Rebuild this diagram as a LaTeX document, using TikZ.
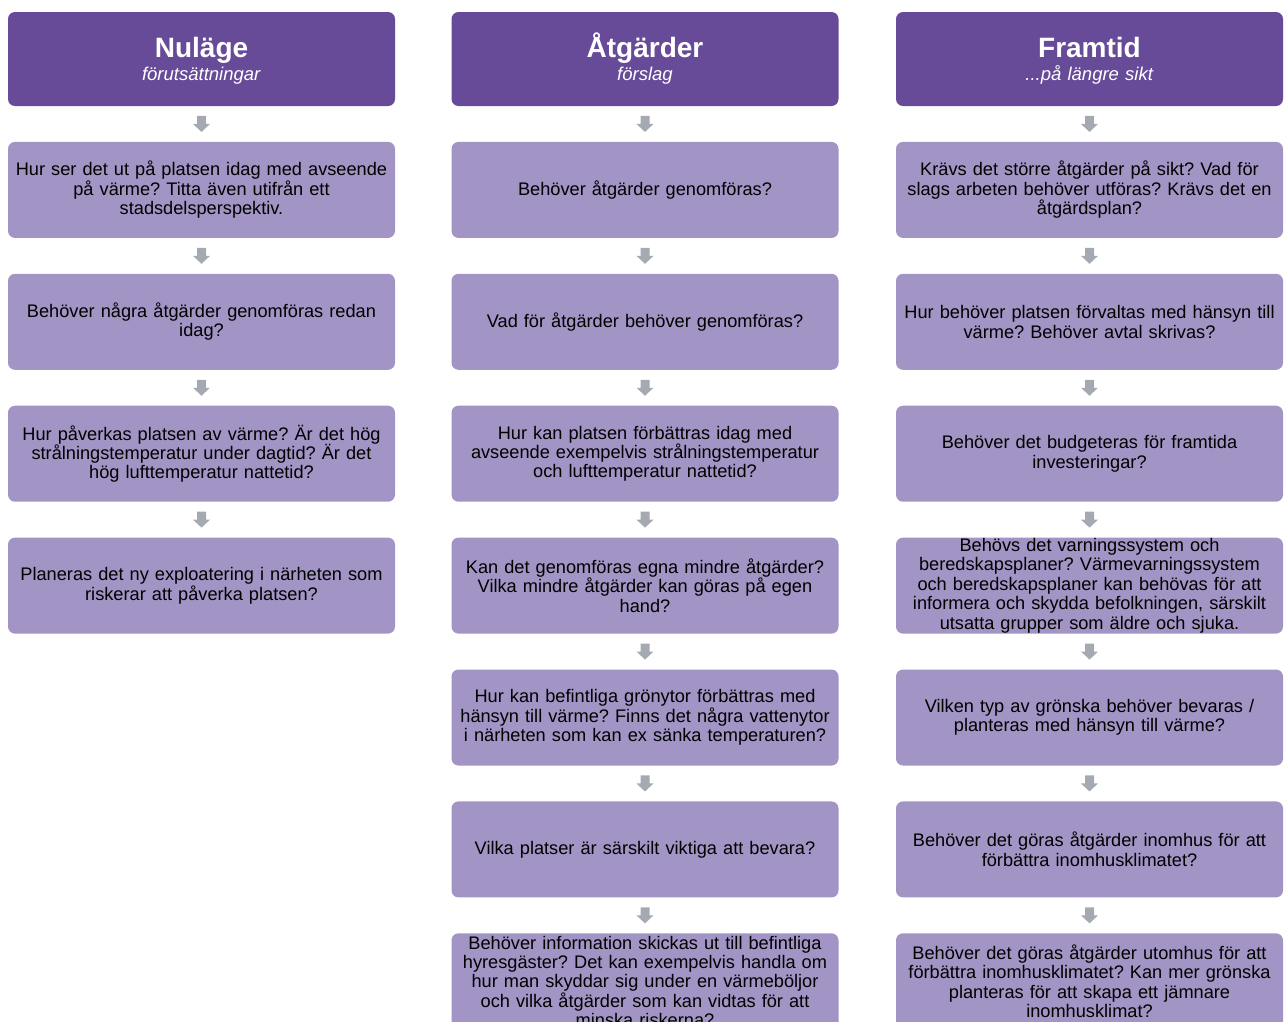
\documentclass[tikz,border=0pt]{standalone}
\usepackage{fontspec}
\setmainfont{Liberation Sans}
\usetikzlibrary{positioning,calc}
\frenchspacing

\definecolor{headpurple}{RGB}{103,75,153}
\definecolor{boxpurple}{RGB}{162,148,196}
\definecolor{arrowgray}{RGB}{165,170,178}

\newcommand{\headtitle}[1]{{\fontsize{28}{23}\selectfont\bfseries\vphantom{Å}#1}}

\tikzset{
  head/.style={rectangle, rounded corners=7pt, fill=headpurple, text=white,
    minimum width=387pt, minimum height=94pt, text width=380pt, inner xsep=3.5pt,
    align=center, font=\fontsize{18.5}{23}\selectfont},
  question/.style={rectangle, rounded corners=7pt, fill=boxpurple, text=black,
    minimum width=387pt, minimum height=96pt, text width=382pt, inner xsep=2.5pt,
    inner ysep=0pt, align=center, font=\fontsize{18.2}{19.4}\selectfont}
}

% block arrow in the gap between two boxes
\newcommand{\flowarrow}[2]{%
  \fill[arrowgray] ($(#1.south)!.5!(#2.north)$) ++(-4.5,-8) -- ++(9,0) -- ++(0,8)
    -- ++(4,0) -- ++(-8.5,8) -- ++(-8.5,-8) -- ++(4,0) -- cycle;}

\begin{document}
\begin{tikzpicture}[x=1pt, y=-1pt, node distance=35.5pt]
  \useasboundingbox (0,0) rectangle (1284,1021);
  \clip (0,0) rectangle (1284,1021);

  \node[head] (nu0) at (201.5,59) {\headtitle{Nuläge}\\\textit{förutsättningar}};
  \node[question, below=of nu0] (nu1) {Hur ser det ut på platsen idag med avseende\\på värme? Titta även utifrån ett\\stadsdelsperspektiv.};
  \node[question, below=of nu1] (nu2) {Behöver några åtgärder genomföras redan\\idag?};
  \node[question, below=of nu2] (nu3) {Hur påverkas platsen av värme? Är det hög\\strålningstemperatur under dagtid? Är det\\hög lufttemperatur nattetid?};
  \node[question, below=of nu3] (nu4) {Planeras det ny exploatering i närheten som\\riskerar att påverka platsen?};

  \node[head] (at0) at (645,59) {\headtitle{Åtgärder}\\\textit{förslag}};
  \node[question, below=of at0] (at1) {Behöver åtgärder genomföras?};
  \node[question, below=of at1] (at2) {Vad för åtgärder behöver genomföras?};
  \node[question, below=of at2] (at3) {Hur kan platsen förbättras idag med\\avseende exempelvis strålningstemperatur\\och lufttemperatur nattetid?};
  \node[question, below=of at3] (at4) {Kan det genomföras egna mindre åtgärder?\\Vilka mindre åtgärder kan göras på egen\\hand?};
  \node[question, below=of at4] (at5) {Hur kan befintliga grönytor förbättras med\\hänsyn till värme? Finns det några vattenytor\\i närheten som kan ex sänka temperaturen?};
  \node[question, below=of at5] (at6) {Vilka platser är särskilt viktiga att bevara?};
  \node[question, below=of at6] (at7) {Behöver information skickas ut till befintliga\\hyresgäster? Det kan exempelvis handla om\\hur man skyddar sig under en värmeböljor\\och vilka åtgärder som kan vidtas för att\\minska riskerna?};

  \node[head] (fr0) at (1089.5,59) {\headtitle{Framtid}\\\textit{...på längre sikt}};
  \node[question, below=of fr0] (fr1) {Krävs det större åtgärder på sikt? Vad för\\slags arbeten behöver utföras? Krävs det en\\åtgärdsplan?};
  \node[question, below=of fr1] (fr2) {Hur behöver platsen förvaltas med hänsyn till\\värme? Behöver avtal skrivas?};
  \node[question, below=of fr2] (fr3) {Behöver det budgeteras för framtida\\investeringar?};
  \node[question, below=of fr3] (fr4) {Behövs det varningssystem och\\beredskapsplaner? Värmevarningssystem\\och beredskapsplaner kan behövas för att\\informera och skydda befolkningen, särskilt\\utsatta grupper som äldre och sjuka.};
  \node[question, below=of fr4] (fr5) {Vilken typ av grönska behöver bevaras /\\planteras med hänsyn till värme?};
  \node[question, below=of fr5] (fr6) {Behöver det göras åtgärder inomhus för att\\förbättra inomhusklimatet?};
  \node[question, below=of fr6] (fr7) {Behöver det göras åtgärder utomhus för att\\förbättra inomhusklimatet? Kan mer grönska\\planteras för att skapa ett jämnare\\inomhusklimat?};

  \foreach \a/\b in {nu0/nu1, nu1/nu2, nu2/nu3, nu3/nu4,
                     at0/at1, at1/at2, at2/at3, at3/at4, at4/at5, at5/at6, at6/at7,
                     fr0/fr1, fr1/fr2, fr2/fr3, fr3/fr4, fr4/fr5, fr5/fr6, fr6/fr7}
    \flowarrow{\a}{\b};
\end{tikzpicture}
\end{document}
